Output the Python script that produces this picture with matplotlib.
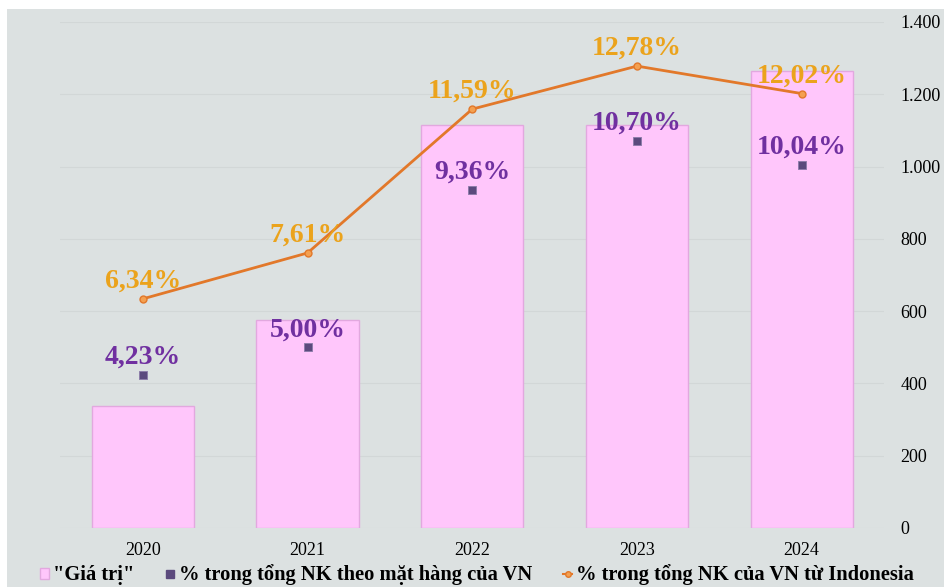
import matplotlib.pyplot as plt
from matplotlib.patches import Rectangle
from matplotlib.lines import Line2D

years = ["2020", "2021", "2022", "2023", "2024"]
gia_tri = [337, 575, 1115, 1115, 1264]
pct_mat_hang = [4.23, 5.00, 9.36, 10.70, 10.04]
pct_indonesia = [6.34, 7.61, 11.59, 12.78, 12.02]
ytick_labels = ["0", "200", "400", "600", "800", "1.000", "1.200", "1.400"]

plt.rcParams['font.family'] = ['Liberation Serif', 'DejaVu Serif']

fig = plt.figure(figsize=(9.44, 5.87), dpi=100)
fig.patches.append(Rectangle((7 / 944, 0), 1, 1 - 9 / 587, transform=fig.transFigure,
                             facecolor="#dce1e1", edgecolor="none", zorder=-10))
ax = fig.add_axes([60.5 / 944, 1 - 528 / 587, (884 - 60.5) / 944, (528 - 22) / 587])
ax.set_facecolor("none")

x = range(len(years))
ax.bar(x, gia_tri, width=0.62, color="#ffc6fb", edgecolor="#e2a8df", linewidth=1, zorder=2)

# percent series are drawn on the same scale (x100)
sq_y = [v * 100 for v in pct_mat_hang]
ln_y = [v * 100 for v in pct_indonesia]
ax.scatter(x, sq_y, marker="s", s=30, color="#5b4a7d", edgecolor="#8a7aa8",
           linewidth=0.6, zorder=4)
ax.plot(x, ln_y, color="#e2782a", lw=2, marker="o", ms=5,
        markerfacecolor="#f4a050", markeredgecolor="#e2782a", zorder=5)

for i in x:
    ax.annotate(f"{pct_mat_hang[i]:.2f}%".replace(".", ","), (i, sq_y[i]),
                xytext=(0, 8), textcoords="offset points", ha="center", va="baseline",
                fontsize=20, fontweight="bold", color="#7030a0", zorder=6)
    ax.annotate(f"{pct_indonesia[i]:.2f}%".replace(".", ","), (i, ln_y[i]),
                xytext=(0, 8), textcoords="offset points", ha="center", va="baseline",
                fontsize=20, fontweight="bold", color="#eba31c", zorder=6)

ax.set_xlim(-0.5, 4.5)
ax.set_ylim(0, 1400)
ax.set_xticks(list(x))
ax.set_xticklabels(years, fontsize=13)
ax.set_yticks(range(0, 1401, 200))
ax.set_yticklabels(ytick_labels, fontsize=13)
ax.yaxis.tick_right()
ax.tick_params(axis="y", length=0, pad=12)
ax.tick_params(axis="x", length=0, pad=10)
ax.grid(axis="y", color="#d2d7d7", lw=0.8, zorder=1)
ax.set_axisbelow(True)
for s in ax.spines.values():
    s.set_visible(False)

handles = [
    Rectangle((0, 0), 1, 1, facecolor="#ffc6fb", edgecolor="#e2a8df"),
    Line2D([], [], ls="none", marker="s", ms=6, color="#5b4a7d"),
    Line2D([], [], color="#e2782a", lw=1.5, marker="o", ms=4,
           markerfacecolor="#f4a050", markeredgecolor="#e2782a"),
]
labels = ['"Giá trị"', "% trong tổng NK theo mặt hàng của VN",
          "% trong tổng NK của VN từ Indonesia"]
fig.legend(handles, labels, loc="center", bbox_to_anchor=(477 / 944, 1 - 575 / 587),
           ncol=3, frameon=False, handlelength=0.45, handleheight=0.45,
           handletextpad=0.2, columnspacing=1.5, borderpad=0,
           prop={"size": 14.8, "weight": "bold"})

fig.savefig("out.png", dpi=100)
